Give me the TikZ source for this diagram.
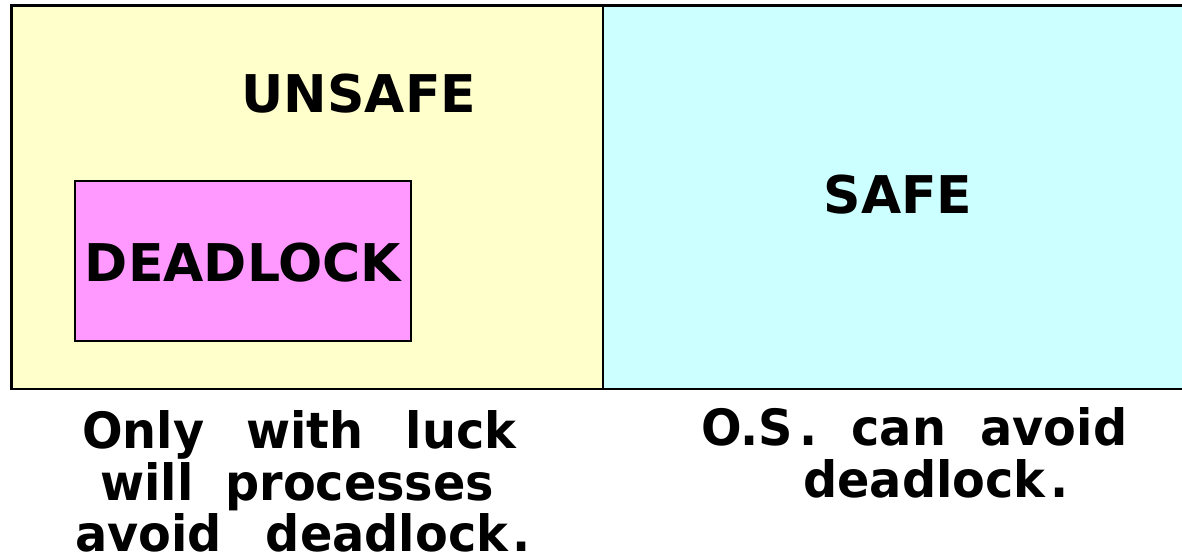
\documentclass[tikz,border=0pt]{standalone}
\usepackage{fontspec}
\setmainfont{DejaVu Sans}
\newfontfamily\captionfont{DejaVu Sans Bold}[FakeStretch=0.955]
\definecolor{unsafefill}{HTML}{FFFFCC}
\definecolor{safefill}{HTML}{CCFFFF}
\definecolor{deadfill}{HTML}{FF99FF}
\tikzset{
  regionline/.style={draw=black, line width=2.6pt},
  boxline/.style={draw=black, line width=2pt},
  statelabel/.style={font=\bfseries\fontsize{52}{52}\selectfont, inner sep=0pt, anchor=base},
  captionline/.style={font=\captionfont\fontsize{50}{50}\selectfont, inner sep=0pt, anchor=base west},
}
\begin{document}
\begin{tikzpicture}[x=1pt,y=-1pt]
  \useasboundingbox (0,0) rectangle (1182,556);
  \fill[white] (0,0) rectangle (1182,556);

  % safe region, open on the right
  \fill[safefill] (603,5.3) rectangle (1190,389);
  \draw[regionline] (1190,5.3) -- (603,5.3) -- (603,389) -- (1190,389);

  % unsafe region with the deadlock box inside
  \filldraw[fill=unsafefill, regionline] (11.5,5.3) rectangle (603,389);
  \filldraw[fill=deadfill, boxline] (75,181) rectangle (411,341);

  \node[statelabel] (unsafe) at (359,113) {UNSAFE};
  \node[statelabel] (safe) at (898,213) {SAFE};
  \node[statelabel] (deadlock) at (243,281) {DEADLOCK};

  % captions under each region
  \node[captionline] (luck1) at (82,448) {\makebox[434pt][s]{Only\hfill with\hfill luck}};
  \node[captionline] (luck2) at (100,500) {\makebox[394pt][s]{will\hfill processes}};
  \node[captionline] (luck3) at (75,551) {\makebox[455pt][s]{avoid\hfill deadlock\hspace{4pt}.}};

  \node[captionline] (os1) at (701,445) {\makebox[426pt][s]{O.S\hspace{6pt}.\hfill can\hfill avoid}};
  \node[captionline] (os2) at (803,497) {deadlock\hspace{5pt}.};
\end{tikzpicture}
\end{document}
